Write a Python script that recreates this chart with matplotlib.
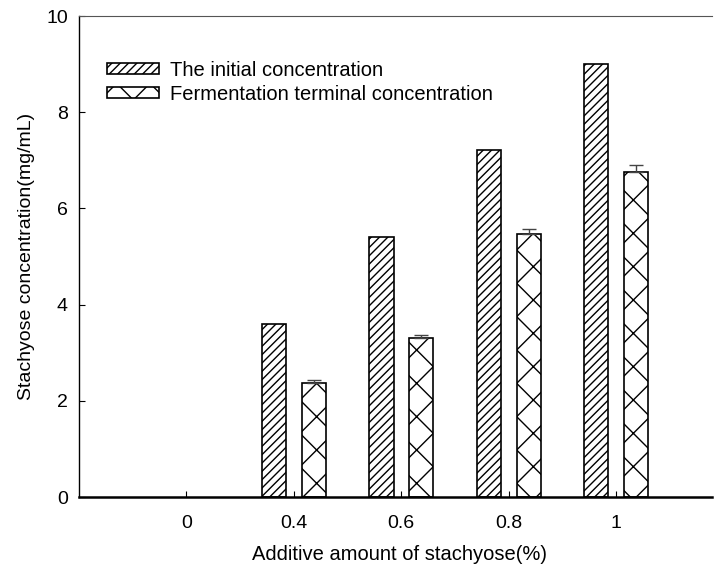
import numpy as np
import matplotlib
matplotlib.use("Agg")
import matplotlib.pyplot as plt

plt.rcParams['font.family'] = ['Liberation Sans', 'DejaVu Sans']
plt.rcParams['hatch.linewidth'] = 1.0

# data
categories = ['0', '0.4', '0.6', '0.8', '1']
initial = [0, 3.6, 5.41, 7.21, 9.0]
terminal = [0, 2.38, 3.31, 5.47, 6.76]
terminal_err = [0, 0.05, 0.06, 0.10, 0.14]
legend_labels = ['The initial concentration', 'Fermentation terminal concentration']

fig = plt.figure(figsize=(7.15, 5.66), dpi=100)
ax = fig.add_axes([0.1105, 0.1219, 0.885, 0.8498])

x = np.arange(len(categories))
ini = np.array(initial)
ter = np.array(terminal)
err = np.array(terminal_err)
m = ini > 0  # zero-height bars are not drawn in the original
w = 0.225
off = 0.185

ax.bar(x[m] - off, ini[m], w, color='white', edgecolor='black', hatch='////',
       linewidth=1.2, label=legend_labels[0])
ax.bar(x[m] + off, ter[m], w, color='white', edgecolor='black', hatch='x',
       linewidth=1.2, label=legend_labels[1])
ax.errorbar(x[m] + off, ter[m], yerr=[np.zeros(m.sum()), err[m]],
            fmt='none', ecolor='#444444', elinewidth=1.0, capsize=5, capthick=1.0)

ax.set_xlim(-1, 4.89)
ax.set_ylim(0, 10)
ax.set_xticks(x)
ax.set_xticklabels(categories)
ax.set_yticks([0, 2, 4, 6, 8, 10])

ax.spines['right'].set_visible(False)
ax.spines['top'].set_color('#555555')
ax.spines['left'].set_linewidth(1.0)
ax.spines['bottom'].set_linewidth(1.8)
ax.tick_params(axis='y', direction='in', length=4.5, pad=8, labelsize=14)
ax.tick_params(axis='x', direction='in', length=4, pad=13, labelsize=14)

ax.set_xlabel('Additive amount of stachyose(%)', fontsize=14.5, labelpad=9)
ax.xaxis.label.set_x(0.507)
ax.set_ylabel('Stachyose concentration(mg/mL)', fontsize=14, labelpad=8)

ax.legend(loc='upper left', bbox_to_anchor=(0.015, 0.945), frameon=False,
          fontsize=14.5, handlelength=2.6, handleheight=0.5, labelspacing=0.25,
          handletextpad=0.55)

fig.savefig('out.png', dpi=100)
